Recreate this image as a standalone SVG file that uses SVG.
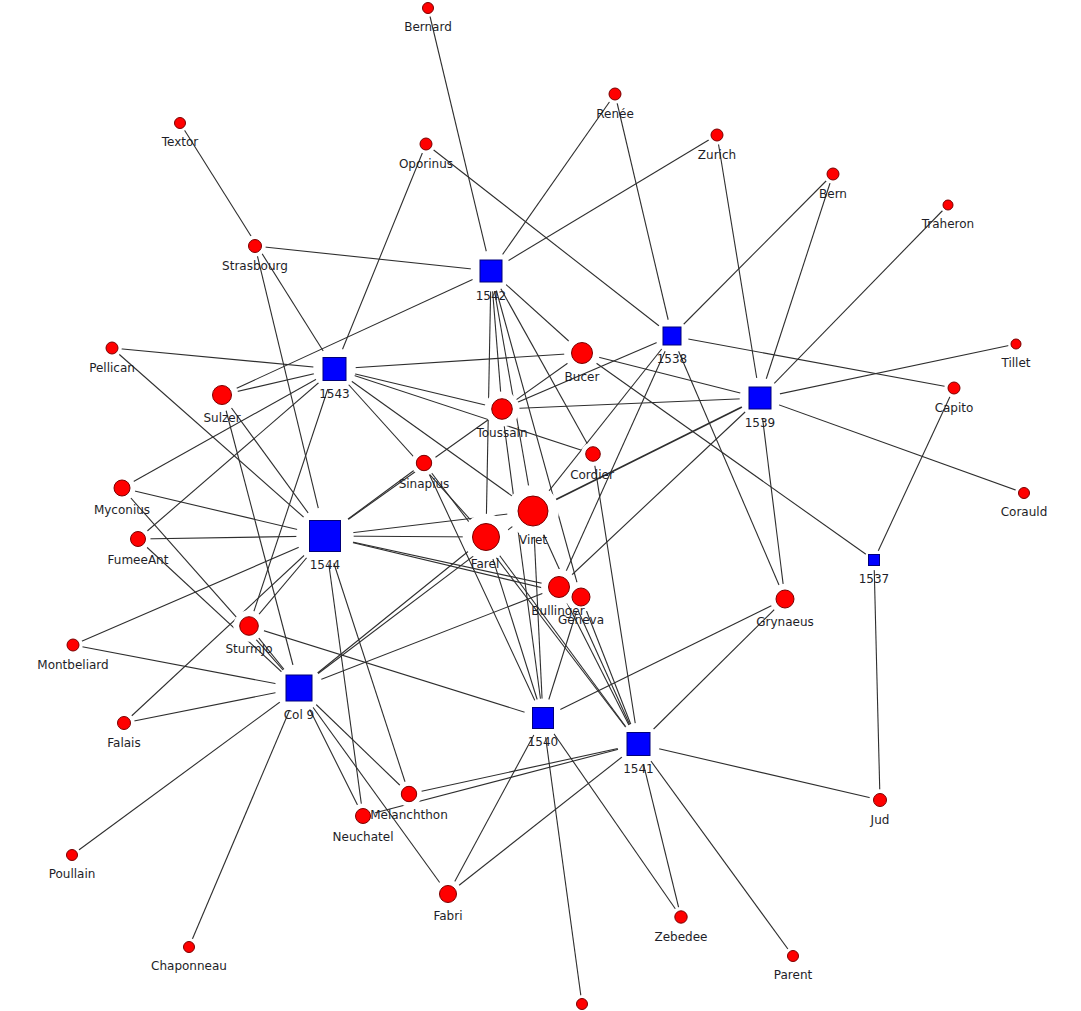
<svg xmlns="http://www.w3.org/2000/svg" width="1081" height="1011" viewBox="0 0 1081 1011">
<style>
.e{stroke:#2e2e2e;stroke-width:1.1;fill:none}
.t{stroke-width:1.7}
.c{fill:#ff0000;stroke:#7a0000;stroke-width:1}
.s{fill:#0000ff;stroke:#00007a;stroke-width:1}
.l{font-family:"DejaVu Sans","Liberation Sans",sans-serif;font-size:12px;fill:#1e1e28;text-anchor:middle}
</style>
<defs>
<mask id="gaps" maskUnits="userSpaceOnUse" x="0" y="0" width="1081" height="1011">
<rect x="0" y="0" width="1081" height="1011" fill="#fff"/>
<g fill="#000">
<circle cx="428" cy="8" r="8.9"/><circle cx="180" cy="123" r="8.9"/><circle cx="426" cy="144" r="9.8"/>
<circle cx="255" cy="246" r="10.7"/><circle cx="615" cy="94" r="9.8"/><circle cx="717" cy="135" r="9.8"/>
<circle cx="833" cy="174" r="9.8"/><circle cx="948" cy="205" r="8"/><circle cx="1016" cy="344" r="8"/>
<circle cx="954" cy="388" r="9.8"/><circle cx="1024" cy="493" r="8.9"/><circle cx="112" cy="348" r="9.8"/>
<circle cx="222" cy="395" r="16.1"/><circle cx="122" cy="488" r="13.4"/><circle cx="138" cy="539" r="12.5"/>
<circle cx="582" cy="353" r="17.9"/><circle cx="502" cy="409" r="17.5"/><circle cx="593" cy="454" r="12.1"/>
<circle cx="424" cy="463" r="12.9"/><circle cx="533" cy="511" r="26"/><circle cx="486" cy="537" r="23.3"/>
<circle cx="559" cy="587" r="17.9"/><circle cx="581" cy="597" r="15.2"/><circle cx="785" cy="599" r="15.2"/>
<circle cx="249" cy="626" r="15.7"/><circle cx="73" cy="645" r="9.8"/><circle cx="124" cy="723" r="10.7"/>
<circle cx="409" cy="794" r="12.9"/><circle cx="363" cy="816" r="12.5"/><circle cx="72" cy="855" r="8.9"/>
<circle cx="189" cy="947" r="8.9"/><circle cx="448" cy="894" r="14.3"/><circle cx="681" cy="917" r="10.2"/>
<circle cx="793" cy="956" r="8.9"/><circle cx="880" cy="800" r="10.7"/><circle cx="582" cy="1004" r="8.9"/>
<circle cx="491" cy="271" r="20.4"/><circle cx="672" cy="336" r="16.7"/><circle cx="760" cy="398" r="20.4"/>
<circle cx="874" cy="560" r="10.2"/><circle cx="334.5" cy="369" r="21.3"/><circle cx="325" cy="536" r="28.7"/>
<circle cx="299" cy="688" r="24"/><circle cx="543" cy="718" r="19.4"/><circle cx="638.5" cy="744" r="21.3"/>
</g>
</mask>
</defs>
<rect x="0" y="0" width="1081" height="1011" fill="#ffffff"/>
<g id="connectors" mask="url(#gaps)">
<!-- 1542 -->
<line class="e" x1="491" y1="271" x2="428" y2="8"/>
<line class="e" x1="491" y1="271" x2="615" y2="94"/>
<line class="e" x1="491" y1="271" x2="717" y2="135"/>
<line class="e" x1="491" y1="271" x2="255" y2="246"/>
<line class="e" x1="491" y1="271" x2="222" y2="395"/>
<line class="e" x1="491" y1="271" x2="582" y2="353"/>
<line class="e" x1="491" y1="271" x2="502" y2="409"/>
<line class="e" x1="491" y1="271" x2="486" y2="537"/>
<line class="e" x1="491" y1="271" x2="533" y2="511"/>
<line class="e" x1="491" y1="271" x2="593" y2="454"/>
<line class="e" x1="491" y1="271" x2="581" y2="597"/>
<!-- 1538 -->
<line class="e" x1="672" y1="336" x2="426" y2="144"/>
<line class="e" x1="672" y1="336" x2="615" y2="94"/>
<line class="e" x1="672" y1="336" x2="833" y2="174"/>
<line class="e" x1="672" y1="336" x2="954" y2="388"/>
<line class="e" x1="672" y1="336" x2="559" y2="587"/>
<line class="e" x1="672" y1="336" x2="502" y2="409"/>
<line class="e" x1="672" y1="336" x2="533" y2="511"/>
<line class="e" x1="672" y1="336" x2="785" y2="599"/>
<!-- 1539 -->
<line class="e" x1="760" y1="398" x2="717" y2="135"/>
<line class="e" x1="760" y1="398" x2="833" y2="174"/>
<line class="e" x1="760" y1="398" x2="948" y2="205"/>
<line class="e" x1="760" y1="398" x2="1016" y2="344"/>
<line class="e" x1="760" y1="398" x2="1024" y2="493"/>
<line class="e" x1="760" y1="398" x2="582" y2="353"/>
<line class="e" x1="760" y1="398" x2="502" y2="409"/>
<line class="e t" x1="760" y1="398" x2="533" y2="511"/>
<line class="e" x1="760" y1="398" x2="559" y2="587"/>
<line class="e" x1="760" y1="398" x2="785" y2="599"/>
<!-- 1537 -->
<line class="e" x1="874" y1="560" x2="582" y2="353"/>
<line class="e" x1="874" y1="560" x2="954" y2="388"/>
<line class="e" x1="874" y1="560" x2="880" y2="800"/>
<!-- 1543 -->
<line class="e" x1="334.5" y1="369" x2="112" y2="348"/>
<line class="e" x1="334.5" y1="369" x2="180" y2="123"/>
<line class="e" x1="334.5" y1="369" x2="426" y2="144"/>
<line class="e" x1="334.5" y1="369" x2="222" y2="395"/>
<line class="e" x1="334.5" y1="369" x2="122" y2="488"/>
<line class="e" x1="334.5" y1="369" x2="138" y2="539"/>
<line class="e" x1="334.5" y1="369" x2="249" y2="626"/>
<line class="e" x1="334.5" y1="369" x2="582" y2="353"/>
<line class="e" x1="334.5" y1="369" x2="502" y2="409"/>
<line class="e" x1="334.5" y1="369" x2="593" y2="454"/>
<line class="e" x1="334.5" y1="369" x2="533" y2="511"/>
<line class="e" x1="334.5" y1="369" x2="486" y2="537"/>
<!-- 1544 -->
<line class="e" x1="325" y1="536" x2="112" y2="348"/>
<line class="e" x1="325" y1="536" x2="255" y2="246"/>
<line class="e" x1="325" y1="536" x2="222" y2="395"/>
<line class="e" x1="325" y1="536" x2="122" y2="488"/>
<line class="e" x1="325" y1="536" x2="138" y2="539"/>
<line class="e" x1="325" y1="536" x2="73" y2="645"/>
<line class="e" x1="325" y1="536" x2="124" y2="723"/>
<line class="e" x1="325" y1="536" x2="249" y2="626"/>
<line class="e" x1="325" y1="536" x2="533" y2="511"/>
<line class="e" x1="325" y1="536" x2="486" y2="537"/>
<line class="e" x1="325" y1="536" x2="559" y2="587"/>
<line class="e" x1="325" y1="536" x2="581" y2="597"/>
<line class="e" x1="325" y1="536" x2="363" y2="816"/>
<line class="e" x1="325" y1="536" x2="409" y2="794"/>
<line class="e" x1="325" y1="536" x2="582" y2="353"/>
<line class="e" x1="325" y1="536" x2="424" y2="463"/>
<!-- Col 9 -->
<line class="e" x1="299" y1="688" x2="122" y2="488"/>
<line class="e" x1="299" y1="688" x2="138" y2="539"/>
<line class="e" x1="299" y1="688" x2="73" y2="645"/>
<line class="e" x1="299" y1="688" x2="124" y2="723"/>
<line class="e" x1="299" y1="688" x2="72" y2="855"/>
<line class="e" x1="299" y1="688" x2="189" y2="947"/>
<line class="e" x1="299" y1="688" x2="222" y2="395"/>
<line class="e" x1="299" y1="688" x2="249" y2="626"/>
<line class="e" x1="299" y1="688" x2="486" y2="537"/>
<line class="e" x1="299" y1="688" x2="533" y2="511"/>
<line class="e" x1="299" y1="688" x2="559" y2="587"/>
<line class="e" x1="299" y1="688" x2="363" y2="816"/>
<line class="e" x1="299" y1="688" x2="409" y2="794"/>
<line class="e" x1="299" y1="688" x2="448" y2="894"/>
<!-- 1540 -->
<line class="e" x1="543" y1="718" x2="502" y2="409"/>
<line class="e" x1="543" y1="718" x2="424" y2="463"/>
<line class="e" x1="543" y1="718" x2="486" y2="537"/>
<line class="e" x1="543" y1="718" x2="533" y2="511"/>
<line class="e" x1="543" y1="718" x2="581" y2="597"/>
<line class="e" x1="543" y1="718" x2="249" y2="626"/>
<line class="e" x1="543" y1="718" x2="785" y2="599"/>
<line class="e" x1="543" y1="718" x2="448" y2="894"/>
<line class="e" x1="543" y1="718" x2="681" y2="917"/>
<line class="e" x1="543" y1="718" x2="582" y2="1004"/>
<!-- 1541 -->
<line class="e" x1="638.5" y1="744" x2="593" y2="454"/>
<line class="e" x1="638.5" y1="744" x2="533" y2="511"/>
<line class="e" x1="638.5" y1="744" x2="559" y2="587"/>
<line class="e" x1="638.5" y1="744" x2="581" y2="597"/>
<line class="e" x1="638.5" y1="744" x2="424" y2="463"/>
<line class="e" x1="638.5" y1="744" x2="486" y2="537"/>
<line class="e" x1="638.5" y1="744" x2="785" y2="599"/>
<line class="e" x1="638.5" y1="744" x2="880" y2="800"/>
<line class="e" x1="638.5" y1="744" x2="793" y2="956"/>
<line class="e" x1="638.5" y1="744" x2="681" y2="917"/>
<line class="e" x1="638.5" y1="744" x2="448" y2="894"/>
<line class="e" x1="638.5" y1="744" x2="409" y2="794"/>
<line class="e" x1="638.5" y1="744" x2="363" y2="816"/>
</g>
<g id="nodes">
<g id="n-bernard"><circle class="c" cx="428" cy="8" r="5.5"/><text class="l" x="428" y="31">Bernard</text></g>
<g id="n-textor"><circle class="c" cx="180" cy="123" r="5.5"/><text class="l" x="180" y="146">Textor</text></g>
<g id="n-oporinus"><circle class="c" cx="426" cy="144" r="6"/><text class="l" x="426" y="167.5">Oporinus</text></g>
<g id="n-strasbourg"><circle class="c" cx="255" cy="246" r="6.5"/><text class="l" x="255" y="270">Strasbourg</text></g>
<g id="n-renee"><circle class="c" cx="615" cy="94" r="6"/><text class="l" x="615" y="117.5">Renée</text></g>
<g id="n-zurich"><circle class="c" cx="717" cy="135" r="6"/><text class="l" x="717" y="158.5">Zurich</text></g>
<g id="n-bern"><circle class="c" cx="833" cy="174" r="6"/><text class="l" x="833" y="197.5">Bern</text></g>
<g id="n-traheron"><circle class="c" cx="948" cy="205" r="5"/><text class="l" x="948" y="227.5">Traheron</text></g>
<g id="n-tillet"><circle class="c" cx="1016" cy="344" r="5"/><text class="l" x="1016" y="366.5">Tillet</text></g>
<g id="n-capito"><circle class="c" cx="954" cy="388" r="6"/><text class="l" x="954" y="411.5">Capito</text></g>
<g id="n-corauld"><circle class="c" cx="1024" cy="493" r="5.5"/><text class="l" x="1024" y="516">Corauld</text></g>
<g id="n-pellican"><circle class="c" cx="112" cy="348" r="6"/><text class="l" x="112" y="371.5">Pellican</text></g>
<g id="n-sulzer"><circle class="c" cx="222" cy="395" r="9.5"/><text class="l" x="222" y="422">Sulzer</text></g>
<g id="n-myconius"><circle class="c" cx="122" cy="488" r="8"/><text class="l" x="122" y="513.5">Myconius</text></g>
<g id="n-fumeeant"><circle class="c" cx="138" cy="539" r="7.5"/><text class="l" x="138" y="564">FumeeAnt</text></g>
<g id="n-bucer"><circle class="c" cx="582" cy="353" r="10.5"/><text class="l" x="582" y="381">Bucer</text></g>
<g id="n-toussain"><circle class="c" cx="502" cy="409" r="10.3"/><text class="l" x="502" y="437">Toussain</text></g>
<g id="n-cordier"><circle class="c" cx="593" cy="454" r="7.3"/><text class="l" x="592" y="479">Cordier</text></g>
<g id="n-sinapius"><circle class="c" cx="424" cy="463" r="7.7"/><text class="l" x="424" y="488">Sinapius</text></g>
<g id="n-viret"><circle class="c" cx="533" cy="511" r="15"/><text class="l" x="533" y="543.5">Viret</text></g>
<g id="n-farel"><circle class="c" cx="486" cy="537" r="13.5"/><text class="l" x="485" y="568">Farel</text></g>
<g id="n-bullinger"><circle class="c" cx="559" cy="587" r="10.5"/><text class="l" x="558" y="615">Bullinger</text></g>
<g id="n-geneva"><circle class="c" cx="581" cy="597" r="9"/><text class="l" x="581" y="623.5">Geneva</text></g>
<g id="n-grynaeus"><circle class="c" cx="785" cy="599" r="9"/><text class="l" x="785" y="625.5">Grynaeus</text></g>
<g id="n-sturmjo"><circle class="c" cx="249" cy="626" r="9.3"/><text class="l" x="249" y="653">SturmJo</text></g>
<g id="n-montbeliard"><circle class="c" cx="73" cy="645" r="6"/><text class="l" x="73" y="668.5">Montbeliard</text></g>
<g id="n-falais"><circle class="c" cx="124" cy="723" r="6.5"/><text class="l" x="124" y="747">Falais</text></g>
<g id="n-melanchthon"><circle class="c" cx="409" cy="794" r="7.7"/><text class="l" x="409" y="819">Melanchthon</text></g>
<g id="n-neuchatel"><circle class="c" cx="363" cy="816" r="7.5"/><text class="l" x="363" y="841">Neuchatel</text></g>
<g id="n-poullain"><circle class="c" cx="72" cy="855" r="5.5"/><text class="l" x="72" y="878">Poullain</text></g>
<g id="n-chaponneau"><circle class="c" cx="189" cy="947" r="5.5"/><text class="l" x="189" y="970">Chaponneau</text></g>
<g id="n-fabri"><circle class="c" cx="448" cy="894" r="8.5"/><text class="l" x="448" y="920">Fabri</text></g>
<g id="n-zebedee"><circle class="c" cx="681" cy="917" r="6.2"/><text class="l" x="681" y="940.5">Zebedee</text></g>
<g id="n-parent"><circle class="c" cx="793" cy="956" r="5.5"/><text class="l" x="793" y="979">Parent</text></g>
<g id="n-jud"><circle class="c" cx="880" cy="800" r="6.5"/><text class="l" x="880" y="824">Jud</text></g>
<g id="n-bottom"><circle class="c" cx="582" cy="1004" r="5.5"/></g>
<g id="n-1542"><rect class="s" x="480" y="260" width="22" height="22"/><text class="l" x="491" y="299.5">1542</text></g>
<g id="n-1538"><rect class="s" x="663" y="327" width="18" height="18"/><text class="l" x="672" y="362.5">1538</text></g>
<g id="n-1539"><rect class="s" x="749" y="387" width="22" height="22"/><text class="l" x="760" y="426.5">1539</text></g>
<g id="n-1537"><rect class="s" x="868.5" y="554.5" width="11" height="11"/><text class="l" x="874" y="583">1537</text></g>
<g id="n-1543"><rect class="s" x="323" y="357.5" width="23" height="23"/><text class="l" x="334.5" y="398">1543</text></g>
<g id="n-1544"><rect class="s" x="309.5" y="520.5" width="31" height="31"/><text class="l" x="325" y="569">1544</text></g>
<g id="n-col9"><rect class="s" x="286" y="675" width="26" height="26"/><text class="l" x="299" y="718.5">Col 9</text></g>
<g id="n-1540"><rect class="s" x="532.5" y="707.5" width="21" height="21"/><text class="l" x="543" y="746">1540</text></g>
<g id="n-1541"><rect class="s" x="627" y="732.5" width="23" height="23"/><text class="l" x="638.5" y="773">1541</text></g>
</g>
</svg>
